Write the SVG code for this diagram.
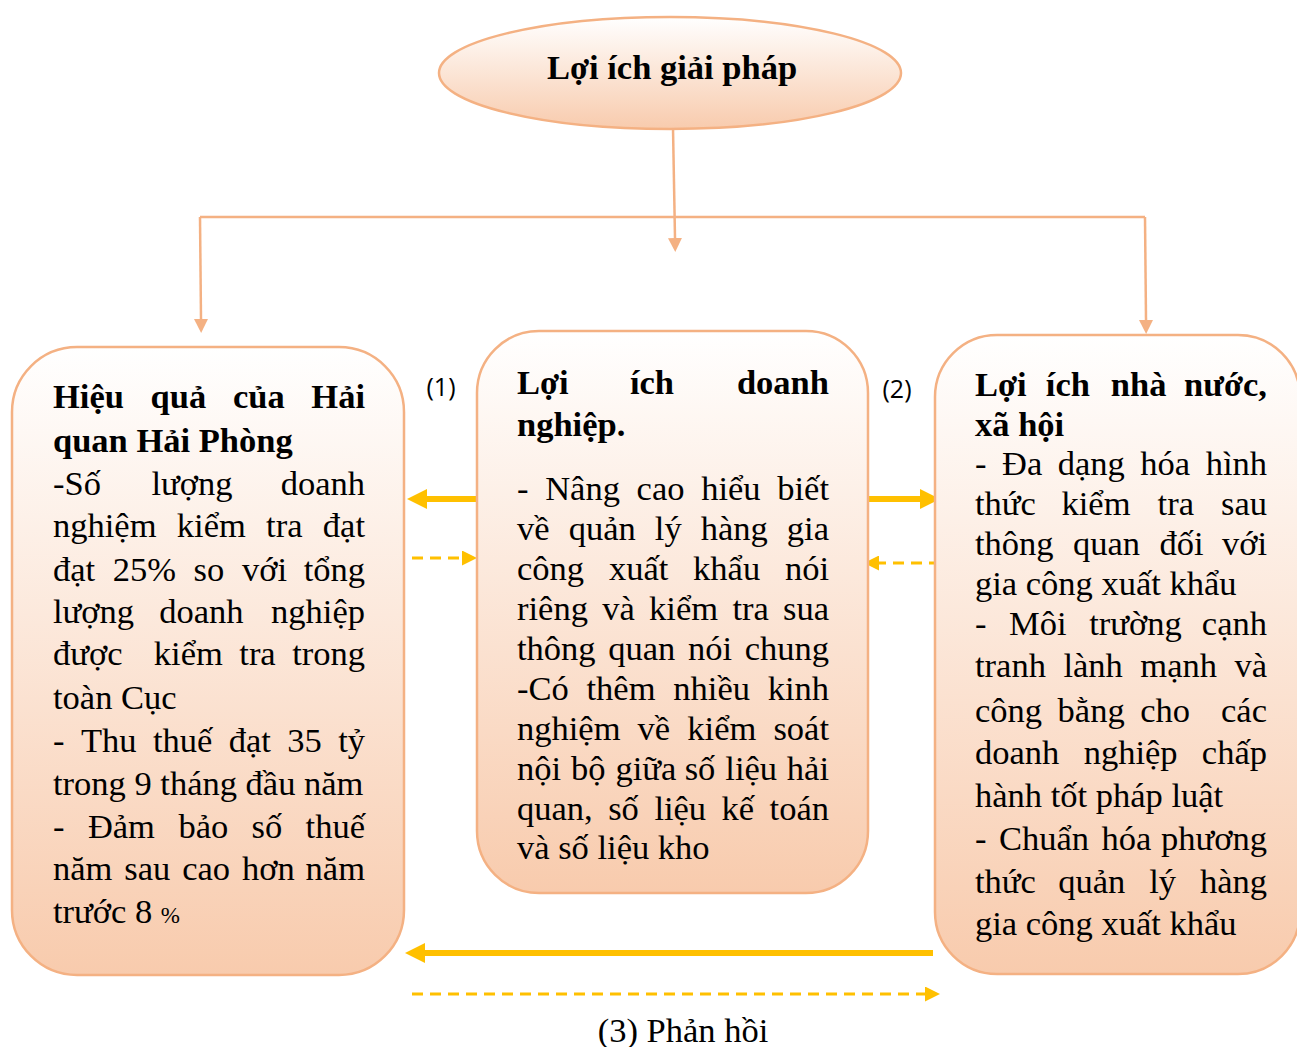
<svg xmlns="http://www.w3.org/2000/svg" width="1297" height="1047" viewBox="0 0 1297 1047">
<style>
.node{stroke:#F4B183;stroke-width:2.5}
.t{font-family:"Liberation Serif","Times New Roman",serif;font-size:34.5px;fill:#000}
.b{font-weight:bold}
.lbl{font-family:"Open Sans","Liberation Sans",Arial,sans-serif;font-size:25px;fill:#000}
.conn{stroke:#F4B183;stroke-width:2.5;fill:none}
.gs{stroke:#FFC000;stroke-width:6;fill:none}
.gd{stroke:#FFC000;stroke-width:3;fill:none;stroke-dasharray:11 7}
.e{text-anchor:end}
</style>
<defs>
<linearGradient id="grad" x1="0" y1="0" x2="0" y2="1">
<stop offset="0" stop-color="#FFFFFF"/>
<stop offset="1" stop-color="#F8CBAD"/>
</linearGradient>
<marker id="ah" markerUnits="userSpaceOnUse" markerWidth="14" markerHeight="14" refX="0" refY="7" orient="auto" viewBox="0 0 14 14">
<path d="M0,0 L14,7 L0,14 z" fill="#F4B183"/>
</marker>
<marker id="gsh" markerUnits="userSpaceOnUse" markerWidth="20" markerHeight="20" refX="0" refY="10" orient="auto" viewBox="0 0 20 20">
<path d="M0,0 L20,10 L0,20 z" fill="#FFC000"/>
</marker>
<marker id="gdh" markerUnits="userSpaceOnUse" markerWidth="15" markerHeight="15" refX="0" refY="7.5" orient="auto" viewBox="0 0 15 15">
<path d="M0,0 L15,7.5 L0,15 z" fill="#FFC000"/>
</marker>
</defs>

<g id="connectors">
<line class="conn" x1="673" y1="128" x2="675" y2="238" marker-end="url(#ah)"/>
<line class="conn" x1="200" y1="217" x2="1145" y2="217"/>
<line class="conn" x1="200" y1="217" x2="201" y2="319" marker-end="url(#ah)"/>
<line class="conn" x1="1145" y1="217" x2="1146" y2="320" marker-end="url(#ah)"/>
<line class="gs" x1="477" y1="499" x2="427" y2="499" marker-end="url(#gsh)"/>
<line class="gd" x1="412" y1="558" x2="462" y2="558" marker-end="url(#gdh)"/>
<line class="gs" x1="869" y1="499" x2="920" y2="499" marker-end="url(#gsh)"/>
<line class="gd" x1="940" y1="563" x2="879" y2="563" marker-end="url(#gdh)"/>
<line class="gs" x1="933" y1="953" x2="425" y2="953" marker-end="url(#gsh)"/>
<line class="gd" x1="412" y1="994" x2="925" y2="994" marker-end="url(#gdh)"/>
<text class="lbl" x="441" y="396" text-anchor="middle">(1)</text>
<text class="lbl" x="897" y="398" text-anchor="middle">(2)</text>
<text class="t" x="683" y="1042" text-anchor="middle">(3) Phản hồi</text>
</g>

<g id="root">
<ellipse class="node" cx="670" cy="73" rx="231" ry="56" fill="url(#grad)"/>
<text class="t b" x="672" y="79" text-anchor="middle">Lợi ích giải pháp</text>
</g>

<g id="left">
<rect class="node" x="12" y="347" width="392" height="628" rx="65" ry="65" fill="url(#grad)"/>
<text class="t b"><tspan x="53" y="408">Hiệu</tspan><tspan x="150.6" y="408">quả</tspan><tspan x="232.9" y="408">của</tspan><tspan class="e" x="365" y="408">Hải</tspan></text>
<text class="t b" x="53" y="452">quan Hải Phòng</text>
<text class="t"><tspan x="53" y="495">-Số</tspan><tspan x="151.5" y="495">lượng</tspan><tspan class="e" x="365" y="495">doanh</tspan></text>
<text class="t"><tspan x="53" y="537">nghiệm</tspan><tspan x="176.8" y="537">kiểm</tspan><tspan x="266.1" y="537">tra</tspan><tspan class="e" x="365" y="537">đạt</tspan></text>
<text class="t"><tspan x="53" y="581">đạt</tspan><tspan x="112.8" y="581">25%</tspan><tspan x="193.6" y="581">so</tspan><tspan x="241.9" y="581">với</tspan><tspan class="e" x="365" y="581">tổng</tspan></text>
<text class="t"><tspan x="53" y="623">lượng</tspan><tspan x="159.2" y="623">doanh</tspan><tspan class="e" x="365" y="623">nghiệp</tspan></text>
<text class="t"><tspan x="53" y="665">được</tspan><tspan x="153.8" y="665">kiểm</tspan><tspan x="239.3" y="665">tra</tspan><tspan class="e" x="365" y="665">trong</tspan></text>
<text class="t" x="53" y="709">toàn Cục</text>
<text class="t"><tspan x="53" y="752">-</tspan><tspan x="80.9" y="752">Thu</tspan><tspan x="152.9" y="752">thuế</tspan><tspan x="228.7" y="752">đạt</tspan><tspan x="287.3" y="752">35</tspan><tspan class="e" x="365" y="752">tỷ</tspan></text>
<text class="t" x="53" y="795">trong 9 tháng đầu năm</text>
<text class="t"><tspan x="53" y="838">-</tspan><tspan x="87.9" y="838">Đảm</tspan><tspan x="178.4" y="838">bảo</tspan><tspan x="251.6" y="838">số</tspan><tspan class="e" x="365" y="838">thuế</tspan></text>
<text class="t"><tspan x="53" y="880">năm</tspan><tspan x="124.3" y="880">sau</tspan><tspan x="182.2" y="880">cao</tspan><tspan x="242" y="880">hơn</tspan><tspan class="e" x="365" y="880">năm</tspan></text>
<text class="t" x="53" y="923">trước 8 <tspan font-size="23">%</tspan></text>
</g>

<g id="middle">
<rect class="node" x="477" y="331" width="391" height="562" rx="62" ry="62" fill="url(#grad)"/>
<text class="t b"><tspan x="517" y="394">Lợi</tspan><tspan x="629.9" y="394">ích</tspan><tspan class="e" x="829" y="394">doanh</tspan></text>
<text class="t b" x="517" y="436">nghiệp.</text>
<text class="t"><tspan x="517" y="500">-</tspan><tspan x="545.2" y="500">Nâng</tspan><tspan x="636.6" y="500">cao</tspan><tspan x="701.2" y="500">hiểu</tspan><tspan class="e" x="829" y="500">biết</tspan></text>
<text class="t"><tspan x="517" y="540">về</tspan><tspan x="568.7" y="540">quản</tspan><tspan x="654.8" y="540">lý</tspan><tspan x="700.7" y="540">hàng</tspan><tspan class="e" x="829" y="540">gia</tspan></text>
<text class="t"><tspan x="517" y="580">công</tspan><tspan x="608.9" y="580">xuất</tspan><tspan x="693.1" y="580">khẩu</tspan><tspan class="e" x="829" y="580">nói</tspan></text>
<text class="t"><tspan x="517" y="620">riêng</tspan><tspan x="602.2" y="620">và</tspan><tspan x="649.1" y="620">kiểm</tspan><tspan x="732.4" y="620">tra</tspan><tspan class="e" x="829" y="620">sua</tspan></text>
<text class="t"><tspan x="517" y="660">thông</tspan><tspan x="608.3" y="660">quan</tspan><tspan x="688" y="660">nói</tspan><tspan class="e" x="829" y="660">chung</tspan></text>
<text class="t"><tspan x="517" y="700">-Có</tspan><tspan x="586.5" y="700">thêm</tspan><tspan x="673.3" y="700">nhiều</tspan><tspan class="e" x="829" y="700">kinh</tspan></text>
<text class="t"><tspan x="517" y="740">nghiệm</tspan><tspan x="637.6" y="740">về</tspan><tspan x="687.3" y="740">kiểm</tspan><tspan class="e" x="829" y="740">soát</tspan></text>
<text class="t"><tspan x="517" y="780">nội</tspan><tspan x="571" y="780">bộ</tspan><tspan x="615.4" y="780">giữa</tspan><tspan x="684.7" y="780">số</tspan><tspan x="725.3" y="780">liệu</tspan><tspan class="e" x="829" y="780">hải</tspan></text>
<text class="t"><tspan x="517" y="820">quan,</tspan><tspan x="608.2" y="820">số</tspan><tspan x="654.4" y="820">liệu</tspan><tspan x="721.6" y="820">kế</tspan><tspan class="e" x="829" y="820">toán</tspan></text>
<text class="t" x="517" y="859">và số liệu kho</text>
</g>

<g id="right">
<rect class="node" x="935" y="335" width="365" height="639" rx="62" ry="62" fill="url(#grad)"/>
<text class="t b"><tspan x="975" y="396">Lợi</tspan><tspan x="1045.8" y="396">ích</tspan><tspan x="1110.8" y="396">nhà</tspan><tspan class="e" x="1267" y="396">nước,</tspan></text>
<text class="t b" x="975" y="436">xã hội</text>
<text class="t"><tspan x="975" y="475">-</tspan><tspan x="1002" y="475">Đa</tspan><tspan x="1057.7" y="475">dạng</tspan><tspan x="1140.3" y="475">hóa</tspan><tspan class="e" x="1267" y="475">hình</tspan></text>
<text class="t"><tspan x="975" y="515">thức</tspan><tspan x="1061.5" y="515">kiểm</tspan><tspan x="1157.6" y="515">tra</tspan><tspan class="e" x="1267" y="515">sau</tspan></text>
<text class="t"><tspan x="975" y="555">thông</tspan><tspan x="1073" y="555">quan</tspan><tspan x="1159.4" y="555">đối</tspan><tspan class="e" x="1267" y="555">với</tspan></text>
<text class="t" x="975" y="595">gia công xuất khẩu</text>
<text class="t"><tspan x="975" y="635">-</tspan><tspan x="1009.1" y="635">Môi</tspan><tspan x="1089.2" y="635">trường</tspan><tspan class="e" x="1267" y="635">cạnh</tspan></text>
<text class="t"><tspan x="975" y="677">tranh</tspan><tspan x="1063.4" y="677">lành</tspan><tspan x="1140.3" y="677">mạnh</tspan><tspan class="e" x="1267" y="677">và</tspan></text>
<text class="t"><tspan x="975" y="722">công</tspan><tspan x="1057.6" y="722">bằng</tspan><tspan x="1140.2" y="722">cho</tspan><tspan class="e" x="1267" y="722">các</tspan></text>
<text class="t"><tspan x="975" y="764">doanh</tspan><tspan x="1083.7" y="764">nghiệp</tspan><tspan class="e" x="1267" y="764">chấp</tspan></text>
<text class="t" x="975" y="807">hành tốt pháp luật</text>
<text class="t"><tspan x="975" y="850">-</tspan><tspan x="998.9" y="850">Chuẩn</tspan><tspan x="1101.4" y="850">hóa</tspan><tspan class="e" x="1267" y="850">phương</tspan></text>
<text class="t"><tspan x="975" y="893">thức</tspan><tspan x="1058.3" y="893">quản</tspan><tspan x="1149.2" y="893">lý</tspan><tspan class="e" x="1267" y="893">hàng</tspan></text>
<text class="t" x="975" y="935">gia công xuất khẩu</text>
</g>
</svg>
